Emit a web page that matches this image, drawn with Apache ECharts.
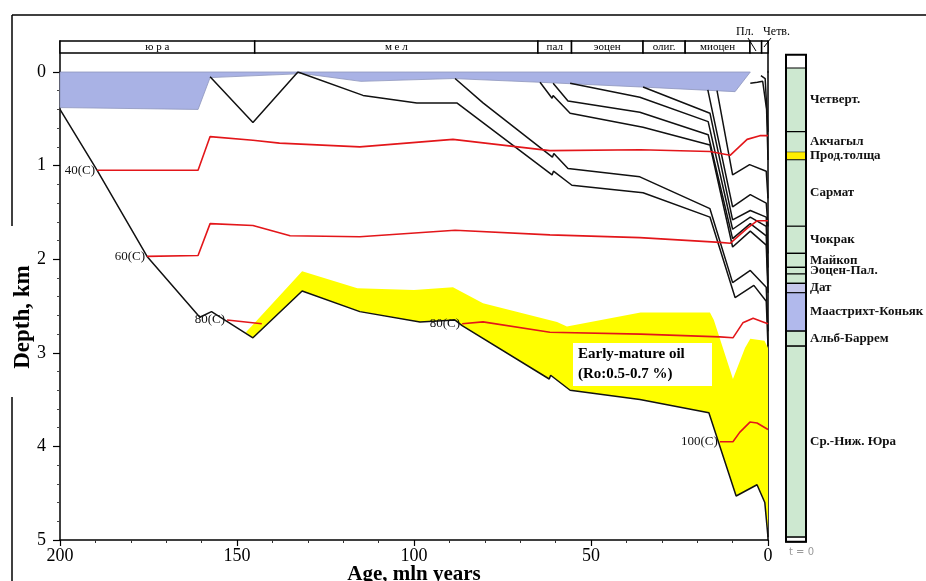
<!DOCTYPE html>
<html><head><meta charset="utf-8">
<script src="https://cdn.jsdelivr.net/npm/echarts@6/dist/echarts.min.js"></script>
<style>html,body{margin:0;padding:0;background:#fff}#c{width:926px;height:581px}</style>
</head><body><div id="c"></div>
<script>
// ---------------- DATA ----------------
// geological time scale header (age, Ma)
const epochNames = ['ю р а', 'м е л', 'пал', 'эоцен', 'олиг.', 'миоцен', '', ''];
const epochStart = [200, 145, 65, 55.5, 35.3, 23.4, 5.1, 1.8];
const epochEnd   = [145, 65, 55.5, 35.3, 23.4, 5.1, 1.8, 0];

// present-day stratigraphic column (depth, km)
const layerNames  = ['', 'Четверт.', 'Акчагыл', 'Прод.толща', 'Сармат', 'Чокрак', 'Майкоп', 'Эоцен-Пал.', '', 'Дат', 'Маастрихт-Коньяк', 'Альб-Баррем', 'Ср.-Ниж. Юра', ''];
const layerTop    = [-0.18, -0.04, 0.64, 0.86, 0.94, 1.65, 1.94, 2.09, 2.16, 2.26, 2.36, 2.77, 2.93, 4.97];
const layerBottom = [-0.04, 0.64, 0.86, 0.94, 1.65, 1.94, 2.09, 2.16, 2.26, 2.36, 2.77, 2.93, 4.97, 5.02];
const layerKind   = ['white', 'green', 'green', 'yellow', 'green', 'green', 'green', 'green', 'green', 'lav', 'blue', 'green', 'green', 'white'];

// axis ticks
const ageTicks = [200, 150, 100, 50, 0];
const depthTicks = [0, 1, 2, 3, 4, 5];

// paleo water depth (bottom of blue area), [age, depth]
const waterBottom = [[200,0.38],[161,0.40],[157.6,0.06],[133,0.02],[132.8,0.01],[115,0.10],[89,0.07],[64.4,0.11],[36,0.16],[9.3,0.21],[5,0.0]];

// early-mature oil window, upper boundary [age, depth]
const oilTop = [[147.5,2.78],[145.5,2.70],[131.6,2.13],[116,2.31],[100,2.33],[89,2.30],[80.5,2.47],[59.6,2.67],[56.8,2.72],[36,2.57],[16.4,2.57],[15.3,2.65],[9.9,3.28],[6.5,2.95],[5,2.85],[1,2.87],[0,2.95]];

// burial curves of horizons [age, depth]
const basement = [[200,0.40],[189.5,1.05],[175.4,1.97],[160.5,2.62],[157.2,2.56],[145.5,2.84],[131.6,2.34],[115.3,2.56],[98.3,2.67],[88.4,2.65],[86.4,2.71],[61.8,3.28],[61.4,3.24],[55.9,3.40],[36.2,3.50],[16.7,3.64],[9.0,4.53],[3.1,4.41],[0.9,4.60],[0,4.97]];
const horizonJ3 = [[157.6,0.05],[145.5,0.54],[132.8,0.0],[114.4,0.25],[99.2,0.33],[87.9,0.33],[61.0,1.10],[60.6,1.06],[55.4,1.21],[35.3,1.29],[16.4,1.55],[9.3,2.41],[4.0,2.28],[0.5,2.45],[0,2.93]];
const horizonK2 = [[88.4,0.07],[80.5,0.33],[60.9,0.91],[60.5,0.87],[56.5,1.03],[36.2,1.12],[16.4,1.46],[10.0,2.25],[5.0,2.12],[0.5,2.30],[0,2.77]];
const horizonDat = [[64.4,0.11],[61.0,0.28],[60.7,0.25],[55.9,0.44],[35.3,0.59],[16.4,0.78],[10.0,1.87],[5.0,1.70],[0.5,1.85],[0,2.36]];
const horizonPal = [[60.7,0.12],[56.5,0.31],[36.2,0.43],[16.9,0.67],[10.0,1.78],[5.0,1.62],[0.5,1.75],[0,2.26]];
const horizonEoc = [[55.9,0.12],[36.2,0.27],[16.9,0.53],[10.0,1.68],[5.0,1.55],[0.5,1.65],[0,2.09]];
const horizonMaikop = [[35.3,0.16],[16.4,0.44],[10.0,1.58],[5.0,1.48],[0.5,1.55],[0,1.94]];
const horizonChokrak = [[17.0,0.19],[10.0,1.44],[5.0,1.31],[0.5,1.40],[0,1.65]];
const horizonSarmat = [[14.4,0.20],[10.0,1.10],[5.2,0.99],[0.5,1.06],[0,1.35]];
const horizonPT = [[5.0,0.12],[3.0,0.11],[1.5,0.10],[0.4,0.40],[0,0.94]];
const horizonAk = [[2.0,0.04],[0.8,0.07],[0,0.64]];

// isotherms [age, depth]
const iso40 = [[189.5,1.05],[161,1.05],[157.6,0.69],[145.5,0.73],[138,0.76],[115.3,0.80],[89,0.72],[61.6,0.84],[36,0.83],[16.4,0.85],[10.7,0.89],[5.9,0.72],[2.3,0.68],[0,0.68]];
const iso60 = [[175.4,1.97],[161,1.96],[157.6,1.62],[145.5,1.64],[135,1.75],[115.3,1.76],[88.4,1.69],[61.6,1.74],[36.2,1.77],[13.6,1.82],[10.7,1.83],[5.9,1.67],[3.1,1.59],[0,1.59]];
const iso80a = [[152.8,2.65],[143,2.69]];
const iso80b = [[86.4,2.69],[80.5,2.67],[61.6,2.78],[36,2.80],[13.6,2.83],[9.9,2.84],[7.1,2.68],[4.2,2.63],[1.4,2.67],[0,2.69]];
const iso100 = [[13.6,3.95],[9.9,3.95],[8,3.85],[5.1,3.74],[3.1,3.75],[0,3.82]];

// ---------------- CHART ----------------
const SERIF = '"Liberation Serif", "Times New Roman", serif';
const layerColor = {white:'#ffffff', green:'#cde8d0', yellow:'#ffee00', lav:'#c6c8ec', blue:'#b1b9ec'};

const chart = echarts.init(document.getElementById('c'), null, {renderer:'canvas'});

function polygonSeries(name, upper, lower, fill, stroke, z){
  return {
    type:'custom', name, xAxisIndex:0, yAxisIndex:0, z, silent:true, clip:false,
    data:[[0,0]],
    renderItem:function(params, api){
      const pts = upper.map(p => api.coord(p)).concat(lower.slice().reverse().map(p => api.coord(p)));
      return {type:'polygon', shape:{points:pts}, style:{fill, stroke, lineWidth:0.8}};
    }
  };
}
function blackLine(name, d){
  return {type:'line', name, xAxisIndex:0, yAxisIndex:0, data:d, symbol:'none', z:5, silent:true,
    lineStyle:{color:'#111', width:1.5}};
}
function redLine(name, d, lab){
  return {type:'line', name, xAxisIndex:0, yAxisIndex:0, z:6, silent:true,
    symbol:'circle', symbolSize:0.1, showSymbol:true,
    itemStyle:{color:'#e3161a'},
    lineStyle:{color:'#e3161a', width:1.6},
    data:d.map((p,i)=> i===0 ? {value:p, label:{show:true, position:'left', distance:2, formatter:lab,
      fontFamily:SERIF, fontSize:13, color:'#111'}} : {value:p})};
}

const basementOil = basement.filter(p => p[0] <= 145.5);

const option = {
  animation:false,
  backgroundColor:'#fff',
  grid:[
    {left:60, top:72, width:708, height:468, outerBoundsMode:'none', containLabel:false},
    {left:60, top:41, width:708, height:31, outerBoundsMode:'none', containLabel:false},
    {left:786, top:53, width:20, height:487, outerBoundsMode:'none', containLabel:false}
  ],
  xAxis:[
    {gridIndex:0, type:'value', min:0, max:200, interval:50, inverse:true,
     axisLine:{show:true, onZero:false, lineStyle:{color:'#000', width:1.5}},
     axisTick:{show:true, length:6, lineStyle:{color:'#000', width:1.2}},
     minorTick:{show:true, splitNumber:5, length:3, lineStyle:{color:'#333'}},
     splitLine:{show:false},
     axisLabel:{fontFamily:SERIF, fontSize:18, color:'#000', margin:7,
       formatter:v => ageTicks.indexOf(v) >= 0 ? String(v) : ''},
     name:'Age, mln years', nameLocation:'middle', nameGap:24, nameMoveOverlap:false,
     nameTextStyle:{fontFamily:SERIF, fontSize:21, fontWeight:'bold', color:'#000', verticalAlign:'top'}},
    {gridIndex:1, type:'value', min:0, max:200, inverse:true, show:false},
    {gridIndex:2, type:'value', min:0, max:1, show:false}
  ],
  yAxis:[
    {gridIndex:0, type:'value', min:0, max:5, interval:1, inverse:true, position:'left',
     axisLine:{show:true, onZero:false, lineStyle:{color:'#000', width:1.5}},
     axisTick:{show:true, length:7, lineStyle:{color:'#000', width:1.2}},
     minorTick:{show:true, splitNumber:5, length:3, lineStyle:{color:'#444'}},
     splitLine:{show:false},
     axisLabel:{fontFamily:SERIF, fontSize:18, color:'#000', margin:14,
       formatter:v => depthTicks.indexOf(v) >= 0 ? String(v) : ''},
     name:'Depth, km', nameLocation:'middle', nameGap:25, nameRotate:90, nameMoveOverlap:false,
     nameTextStyle:{fontFamily:SERIF, fontSize:23, fontWeight:'bold', color:'#000', padding:[0,22,0,0]}},
    {gridIndex:0, type:'value', min:0, max:5, inverse:true, position:'right',
     axisLine:{show:true, onZero:false, lineStyle:{color:'#000', width:1.5}},
     axisTick:{show:false}, axisLabel:{show:false}, splitLine:{show:false}},
    {gridIndex:1, type:'value', min:0, max:1, inverse:true, position:'left',
     axisLine:{show:true, onZero:false, lineStyle:{color:'#000', width:1.5}},
     axisTick:{show:false}, axisLabel:{show:false}, splitLine:{show:false}},
    {gridIndex:1, type:'value', min:0, max:1, inverse:true, position:'right',
     axisLine:{show:true, onZero:false, lineStyle:{color:'#000', width:1.5}},
     axisTick:{show:false}, axisLabel:{show:false}, splitLine:{show:false}},
    {gridIndex:2, type:'value', min:-0.2, max:5, inverse:true, show:false}
  ],
  series:[
    polygonSeries('oil', oilTop, basementOil, '#ffff00', 'none', 1),
    polygonSeries('water', waterBottom, [[200,0]], '#a9b2e5', '#8e95bd', 2),
    blackLine('basement', basement),
    blackLine('J3', horizonJ3),
    blackLine('K2', horizonK2),
    blackLine('Dat', horizonDat),
    blackLine('Pal', horizonPal),
    blackLine('Eoc', horizonEoc),
    blackLine('Maikop', horizonMaikop),
    blackLine('Chokrak', horizonChokrak),
    blackLine('Sarmat', horizonSarmat),
    blackLine('PT', horizonPT),
    blackLine('Ak', horizonAk),
    redLine('40C', iso40, '40(C)'),
    redLine('60C', iso60, '60(C)'),
    redLine('80Ca', iso80a, '80(C)'),
    redLine('80Cb', iso80b, '80(C)'),
    redLine('100C', iso100, '100(C)'),
    { // time scale header
      type:'custom', name:'header', xAxisIndex:1, yAxisIndex:2, silent:true, clip:false, z:5,
      data:epochStart.map((s,i)=>[s, epochEnd[i]]),
      renderItem:function(params, api){
        const i = params.dataIndex;
        const a = api.coord([api.value(0), 0]);
        const b = api.coord([api.value(1), 0]);
        const cs = params.coordSys;
        const x0 = Math.min(a[0], b[0]), w = Math.abs(b[0]-a[0]);
        const ch = [{type:'rect', shape:{x:x0, y:cs.y, width:w, height:12},
          style:{fill:'#fff', stroke:'#000', lineWidth:1.5}}];
        if (epochNames[i]) ch.push({type:'text', style:{text:epochNames[i], x:x0+w/2, y:cs.y+6.5,
          align:'center', verticalAlign:'middle', textAlign:'center', textVerticalAlign:'middle',
          font:'11px ' + SERIF, fill:'#000'}});
        return {type:'group', children:ch};
      }
    },
    { // stratigraphic column
      type:'custom', name:'column', xAxisIndex:2, yAxisIndex:4, silent:true, clip:false, z:5,
      data:layerTop.map((t,i)=>[t, layerBottom[i]]),
      renderItem:function(params, api){
        const i = params.dataIndex;
        const p0 = api.coord([0, api.value(0)]);
        const p1 = api.coord([1, api.value(1)]);
        const k = layerKind[i];
        const ch = [{type:'rect', shape:{x:p0[0], y:p0[1], width:p1[0]-p0[0], height:p1[1]-p0[1]},
          style:{fill:layerColor[k], stroke:(k==='yellow' || i===0) ? 'none' : '#000', lineWidth:1.2}}];
        if (layerNames[i]) ch.push({type:'text', style:{text:layerNames[i], x:p1[0]+4, y:(p0[1]+p1[1])/2,
          align:'left', verticalAlign:'middle', textAlign:'left', textVerticalAlign:'middle',
          font:'bold 13px ' + SERIF, fill:'#111'}});
        return {type:'group', children:ch};
      }
    },
    { // column frame
      type:'custom', name:'columnFrame', xAxisIndex:2, yAxisIndex:4, silent:true, clip:false, z:6,
      data:[[layerTop[0], layerBottom[layerBottom.length-1]]],
      renderItem:function(params, api){
        const p0 = api.coord([0, api.value(0)]);
        const p1 = api.coord([1, api.value(1)]);
        return {type:'rect', shape:{x:p0[0], y:p0[1], width:p1[0]-p0[0], height:p1[1]-p0[1]},
          style:{fill:'none', stroke:'#000', lineWidth:2}};
      }
    }
  ],
  graphic:[
    {type:'line', shape:{x1:12, y1:15, x2:926, y2:15}, style:{stroke:'#000', lineWidth:1.5}, z:10},
    {type:'line', shape:{x1:12, y1:15, x2:12, y2:226}, style:{stroke:'#000', lineWidth:1.5}, z:10},
    {type:'line', shape:{x1:12, y1:397, x2:12, y2:581}, style:{stroke:'#000', lineWidth:1.5}, z:10},
    {type:'text', x:736, y:26, style:{text:'Пл.', font:'12px ' + SERIF, fill:'#000'}, z:10},
    {type:'text', x:763, y:26, style:{text:'Четв.', font:'12px ' + SERIF, fill:'#000'}, z:10},
    {type:'line', shape:{x1:748, y1:38, x2:756, y2:51}, style:{stroke:'#000', lineWidth:1}, z:10},
    {type:'line', shape:{x1:771, y1:38, x2:764, y2:47}, style:{stroke:'#000', lineWidth:1}, z:10},
    {type:'rect', shape:{x:573, y:343, width:139, height:43}, style:{fill:'#fff'}, z:20},
    {type:'text', x:578, y:347, style:{text:'Early-mature oil', font:'bold 15px ' + SERIF, fill:'#000'}, z:21},
    {type:'text', x:578, y:367, style:{text:'(Ro:0.5-0.7 %)', font:'bold 15px ' + SERIF, fill:'#000'}, z:21},
    {type:'text', x:789, y:547, style:{text:'t = 0', font:'10px "DejaVu Sans", sans-serif', fill:'#999'}, z:10}
  ]
};
chart.setOption(option);
</script>
</body></html>
